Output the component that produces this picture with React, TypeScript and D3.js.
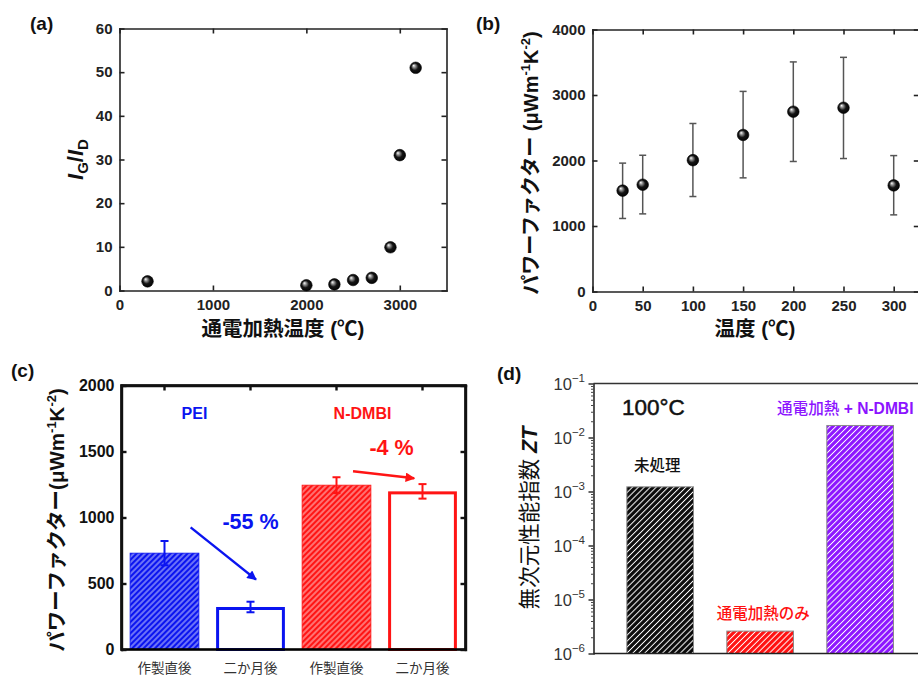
import React, { useEffect, useRef } from "react";
import * as d3 from "d3";

const W = 918, H = 676;
const FONT = "'Liberation Sans', Arial, 'Noto Sans CJK JP', sans-serif";

// (a) IG/ID vs joule heating temperature
const heatTemps = [300, 2000, 2300, 2500, 2700, 2900, 3000, 3170];
const ratioGD = [2.1, 1.2, 1.4, 2.4, 2.9, 9.9, 31, 51];
const ticksAx = [0, 1000, 2000, 3000];
const ticksAy = [0, 10, 20, 30, 40, 50, 60];

// (b) power factor vs measurement temperature
const measTemps = [30, 50, 100, 150, 200, 250, 300];
const pfMean = [1540, 1630, 2005, 2390, 2745, 2805, 1620];
const pfLow = [1115, 1185, 1450, 1735, 1985, 2030, 1170];
const pfHigh = [1960, 2080, 2565, 3055, 3505, 3575, 2075];
const ticksBx = [0, 50, 100, 150, 200, 250, 300];
const ticksBy = [0, 1000, 2000, 3000, 4000];

// (c) aging
const agingLabels = ["作製直後", "二か月後", "作製直後", "二か月後"];
const agingPF = [730, 322, 1245, 1198];
const agingErr = [92, 40, 60, 55];
const dopants = ["PEI", "PEI", "N-DMBI", "N-DMBI"];
const changeLabels = ["-55 %", "-4 %"];
const dopantColors = ["#0a14f0", "#ff1414"];
const ticksCy = [0, 500, 1000, 1500, 2000];

// (d) ZT at 100C
const ztLabels = ["未処理", "通電加熱のみ", "通電加熱 + N-DMBI"];
const ztValues = [1.22e-3, 2.6e-6, 1.67e-2];
const ztColors = ["#0a0a0a", "#ff1010", "#8c14ff"];
const ztExps = [-6, -5, -4, -3, -2, -1];

const fmt = d3.format("d");

function styleAxis(g: any, sw: number, color: string, fs = 15, weight: any = 700) {
  g.select(".domain").attr("stroke", color).attr("stroke-width", sw).attr("stroke-linecap", "square");
  g.selectAll(".tick line").attr("stroke", color).attr("stroke-width", sw);
  g.selectAll("text").attr("font-family", FONT).attr("font-size", fs).attr("font-weight", weight).attr("fill", color);
}

function boxAxes(svg: any, x: any, y: any, xt: number[], yt: number[], sw: number, color: string, fs: number) {
  const [x0, x1] = x.range();
  const [y0, y1] = y.range();
  const b = svg.append("g").attr("transform", `translate(0,${y0})`)
    .call(d3.axisBottom(x).tickValues(xt).tickFormat(fmt).tickSize(-5).tickSizeOuter(0).tickPadding(9));
  styleAxis(b, sw, color, fs);
  const t = svg.append("g").attr("transform", `translate(0,${y1})`)
    .call(d3.axisTop(x).tickValues(xt).tickSize(-5).tickSizeOuter(0).tickFormat(() => ""));
  styleAxis(t, sw, color, fs);
  const l = svg.append("g").attr("transform", `translate(${x0},0)`)
    .call(d3.axisLeft(y).tickValues(yt).tickFormat(fmt).tickSize(-5).tickSizeOuter(0).tickPadding(7));
  styleAxis(l, sw, color, fs);
  const r = svg.append("g").attr("transform", `translate(${x1},0)`)
    .call(d3.axisRight(y).tickValues(yt).tickSize(-5).tickSizeOuter(0).tickFormat(() => ""));
  styleAxis(r, sw, color, fs);
}

function label(svg: any, txt: string, x: number, y: number, size: number, opts: any = {}) {
  return svg.append("text").attr("x", x).attr("y", y).text(txt)
    .attr("font-family", FONT).attr("font-size", size)
    .attr("font-weight", opts.weight ?? 700)
    .attr("fill", opts.fill ?? "#111")
    .attr("text-anchor", opts.anchor ?? "start");
}

export default function App() {
  const svgRef = useRef<SVGSVGElement>(null);

  useEffect(() => {
    const svg = d3.select(svgRef.current);
    svg.selectAll("*").remove();
    const defs = svg.append("defs");

    const grad = defs.append("radialGradient").attr("id", "sphere")
      .attr("cx", "50%").attr("cy", "50%").attr("r", "55%").attr("fx", "32%").attr("fy", "30%");
    grad.append("stop").attr("offset", "0%").attr("stop-color", "#ffffff");
    grad.append("stop").attr("offset", "22%").attr("stop-color", "#9a9a9a");
    grad.append("stop").attr("offset", "55%").attr("stop-color", "#151515");
    grad.append("stop").attr("offset", "100%").attr("stop-color", "#000000");

    const hatch = (id: string, bg: string, lw: number, period: number) => {
      const p = defs.append("pattern").attr("id", id).attr("patternUnits", "userSpaceOnUse")
        .attr("width", period).attr("height", period).attr("patternTransform", "rotate(45)");
      p.append("rect").attr("width", period).attr("height", period).attr("fill", bg);
      p.append("line").attr("x1", period / 2).attr("y1", -1).attr("x2", period / 2).attr("y2", period + 1)
        .attr("stroke", "#fff").attr("stroke-width", lw);
    };
    hatch("hC0", dopantColors[0], 0.8, 4);
    hatch("hC1", dopantColors[1], 0.8, 4);
    ztColors.forEach((c, i) => hatch(`hD${i}`, c, 1.0, 4.2));

    ["blue", "red"].forEach((n, i) => {
      defs.append("marker").attr("id", `arr-${n}`).attr("viewBox", "0 0 10 10")
        .attr("refX", 9).attr("refY", 5).attr("markerWidth", 4.5).attr("markerHeight", 4)
        .attr("markerUnits", "strokeWidth").attr("orient", "auto")
        .append("path").attr("d", "M0,0 L10,5 L0,10 Z").attr("fill", dopantColors[i]);
    });

    // ---------- (a)
    const xA = d3.scaleLinear().domain([0, 3500]).range([119.5, 446.5]);
    const yA = d3.scaleLinear().domain([0, 60]).range([290.5, 28.5]);
    boxAxes(svg, xA, yA, ticksAx, ticksAy, 1.6, "#222", 15);
    svg.append("g").selectAll("circle").data(heatTemps).join("circle")
      .attr("cx", d => xA(d)).attr("cy", (d, i) => yA(ratioGD[i])).attr("r", 5.8)
      .attr("fill", "url(#sphere)").attr("stroke", "#000").attr("stroke-width", 0.6);
    label(svg, "(a)", 30, 30, 19);
    label(svg, "通電加熱温度 (℃)", 283, 336, 20.5, { anchor: "middle" });
    const la = svg.append("text").attr("transform", `translate(83,159.5) rotate(-90)`)
      .attr("text-anchor", "middle").attr("font-family", FONT).attr("font-size", 22)
      .attr("font-weight", 700).attr("fill", "#111");
    la.append("tspan").attr("font-style", "italic").text("I");
    la.append("tspan").attr("font-size", 15).attr("dy", 5).text("G");
    la.append("tspan").attr("dy", -5).text("/");
    la.append("tspan").attr("font-style", "italic").text("I");
    la.append("tspan").attr("font-size", 15).attr("dy", 5).text("D");

    // ---------- (b)
    const xB = d3.scaleLinear().domain([0, 325]).range([592.5, 918.8]);
    const yB = d3.scaleLinear().domain([0, 4000]).range([291.5, 29.5]);
    boxAxes(svg, xB, yB, ticksBx, ticksBy, 1.6, "#222", 15);
    const eb = svg.append("g").attr("stroke", "#555").attr("stroke-width", 1.5);
    measTemps.forEach((t, i) => {
      const cx = xB(t);
      eb.append("line").attr("x1", cx).attr("x2", cx).attr("y1", yB(pfLow[i])).attr("y2", yB(pfHigh[i]));
      eb.append("line").attr("x1", cx - 3.5).attr("x2", cx + 3.5).attr("y1", yB(pfLow[i])).attr("y2", yB(pfLow[i]));
      eb.append("line").attr("x1", cx - 3.5).attr("x2", cx + 3.5).attr("y1", yB(pfHigh[i])).attr("y2", yB(pfHigh[i]));
    });
    svg.append("g").selectAll("circle").data(measTemps).join("circle")
      .attr("cx", d => xB(d)).attr("cy", (d, i) => yB(pfMean[i])).attr("r", 5.8)
      .attr("fill", "url(#sphere)").attr("stroke", "#000").attr("stroke-width", 0.6);
    label(svg, "(b)", 476, 30, 19);
    label(svg, "温度 (℃)", 755, 336, 20.5, { anchor: "middle" });
    const lb = svg.append("text").attr("transform", `translate(538,163) rotate(-90)`)
      .attr("text-anchor", "middle").attr("font-family", FONT).attr("font-size", 20)
      .attr("font-weight", 700).attr("fill", "#111");
    lb.append("tspan").text("パワーファクター (μWm");
    lb.append("tspan").attr("font-size", 13).attr("dy", -8).text("-1");
    lb.append("tspan").attr("dy", 8).text("K");
    lb.append("tspan").attr("font-size", 13).attr("dy", -8).text("-2");
    lb.append("tspan").attr("dy", 8).text(")");

    // ---------- (c)
    const xC = d3.scaleBand<number>().domain(d3.range(4)).range([121.5, 465.5]).paddingInner(0.2).paddingOuter(0.1);
    const yC = d3.scaleLinear().domain([0, 2000]).range([649.5, 385.5]);
    const bw = xC.bandwidth();
    const colC = (i: number) => dopantColors[i < 2 ? 0 : 1];
    agingPF.forEach((v, i) => {
      const x = xC(i)!;
      if (i % 2 === 0) {
        svg.append("rect").attr("x", x).attr("width", bw).attr("y", yC(v)).attr("height", yC(0) - yC(v))
          .attr("fill", `url(#hC${i < 2 ? 0 : 1})`).attr("stroke", colC(i)).attr("stroke-width", 0.8);
      } else {
        svg.append("rect").attr("x", x + 1.5).attr("width", bw - 3).attr("y", yC(v) + 1.5)
          .attr("height", yC(0) - yC(v) - 1.5).attr("fill", "#fff").attr("stroke", colC(i)).attr("stroke-width", 3);
      }
      const cx = x + bw / 2;
      const g = svg.append("g").attr("stroke", colC(i)).attr("stroke-width", 2);
      const lo = yC(v - agingErr[i]), hi = yC(v + agingErr[i]);
      g.append("line").attr("x1", cx).attr("x2", cx).attr("y1", lo).attr("y2", hi);
      g.append("line").attr("x1", cx - 4).attr("x2", cx + 4).attr("y1", lo).attr("y2", lo);
      g.append("line").attr("x1", cx - 4).attr("x2", cx + 4).attr("y1", hi).attr("y2", hi);
      label(svg, agingLabels[i], cx, 673, 13.5, { anchor: "middle", weight: 400, fill: "#333" });
    });
    // frame (c)
    const [cx0, cx1] = xC.range();
    svg.append("rect").attr("x", cx0).attr("y", yC(2000)).attr("width", cx1 - cx0).attr("height", yC(0) - yC(2000))
      .attr("fill", "none").attr("stroke", "#000").attr("stroke-width", 2.6);
    const lc = svg.append("g").attr("transform", `translate(${cx0},0)`)
      .call(d3.axisLeft(yC).tickValues(ticksCy).tickFormat(fmt).tickSize(-5).tickSizeOuter(0).tickPadding(7));
    styleAxis(lc, 2.4, "#111", 16);
    const rc = svg.append("g").attr("transform", `translate(${cx1},0)`)
      .call(d3.axisRight(yC).tickValues(ticksCy).tickSize(-5).tickSizeOuter(0).tickFormat(() => ""));
    styleAxis(rc, 2.4, "#111", 16);
    const tc = svg.append("g").attr("transform", `translate(0,${yC(2000)})`)
      .call(d3.axisTop(xC).tickSize(-5).tickSizeOuter(0).tickFormat(() => ""));
    styleAxis(tc, 2.4, "#111", 16);
    // group titles
    label(svg, dopants[0], (xC(0)! + xC(1)! + bw) / 2 - 13, 419, 16, { anchor: "middle", fill: dopantColors[0] });
    label(svg, dopants[2], (xC(2)! + xC(3)! + bw) / 2 - 17, 419, 16, { anchor: "middle", fill: dopantColors[1] });
    // change annotations
    label(svg, changeLabels[0], xC(1)! + bw / 2, 529, 21.5, { anchor: "middle", fill: dopantColors[0] });
    label(svg, changeLabels[1], xC(3)! + bw * 0.05, 455, 21.5, { anchor: "middle", fill: dopantColors[1] });
    svg.append("line").attr("x1", xC(0)! + bw * 0.88).attr("y1", yC(925))
      .attr("x2", xC(1)! + bw * 0.58).attr("y2", yC(530))
      .attr("stroke", dopantColors[0]).attr("stroke-width", 2.4).attr("marker-end", "url(#arr-blue)");
    svg.append("line").attr("x1", xC(2)! + bw * 0.74).attr("y1", yC(1350))
      .attr("x2", xC(3)! + bw * 0.38).attr("y2", yC(1297))
      .attr("stroke", dopantColors[1]).attr("stroke-width", 2.4).attr("marker-end", "url(#arr-red)");
    label(svg, "(c)", 11, 377, 19);
    const lcT = svg.append("text").attr("transform", `translate(64,520) rotate(-90)`)
      .attr("text-anchor", "middle").attr("font-family", FONT).attr("font-size", 20.5)
      .attr("font-weight", 700).attr("fill", "#111");
    lcT.append("tspan").text("パワーファクター(μWm");
    lcT.append("tspan").attr("font-size", 13).attr("dy", -8).text("-1");
    lcT.append("tspan").attr("dy", 8).text("K");
    lcT.append("tspan").attr("font-size", 13).attr("dy", -8).text("-2");
    lcT.append("tspan").attr("dy", 8).text(")");

    // ---------- (d)
    const xD = d3.scaleBand<number>().domain(d3.range(3)).range([593.5, 926.8]).paddingInner(1 / 3).paddingOuter(1 / 3);
    const yD = d3.scaleLog().domain([1e-6, 1e-1]).range([653.5, 383.5]);
    const bd = xD.bandwidth();
    ztValues.forEach((v, i) => {
      svg.append("rect").attr("x", xD(i)!).attr("width", bd).attr("y", yD(v)).attr("height", yD(1e-6) - yD(v))
        .attr("fill", `url(#hD${i})`).attr("stroke", "#8a8a8a").attr("stroke-width", 1);
    });
    const majors = ztExps.map(e => Math.pow(10, e));
    const minors: number[] = [];
    ztExps.slice(0, -1).forEach(e => d3.range(2, 10).forEach(m => minors.push(m * Math.pow(10, e))));
    const ld = svg.append("g").attr("transform", `translate(593.5,0)`)
      .call(d3.axisLeft(yD).tickValues(majors).tickSize(5).tickSizeOuter(0).tickFormat(() => ""));
    styleAxis(ld, 1.4, "#222");
    const ldm = svg.append("g").attr("transform", `translate(593.5,0)`)
      .call(d3.axisLeft(yD).tickValues(minors).tickSize(2.5).tickSizeOuter(0).tickFormat(() => ""));
    styleAxis(ldm, 1, "#444");
    svg.append("line").attr("x1", 593.5).attr("x2", W).attr("y1", yD(1e-1)).attr("y2", yD(1e-1))
      .attr("stroke", "#333").attr("stroke-width", 1.4);
    svg.append("line").attr("x1", 593.5).attr("x2", W).attr("y1", yD(1e-6)).attr("y2", yD(1e-6))
      .attr("stroke", "#222").attr("stroke-width", 1.4);
    ztExps.forEach(e => {
      const t = svg.append("text").attr("x", 585).attr("y", yD(Math.pow(10, e)) + 6.5)
        .attr("text-anchor", "end").attr("font-family", FONT).attr("font-size", 16.5).attr("fill", "#333");
      t.append("tspan").text("10");
      t.append("tspan").attr("font-size", 11.5).attr("dy", -8).text(`−${Math.abs(e)}`);
    });
    label(svg, "(d)", 497, 380, 19);
    label(svg, "100°C", 622, 415, 22.5, { weight: 400, fill: "#111" }).attr("stroke", "#111").attr("stroke-width", 0.5);
    label(svg, ztLabels[0], xD(0)! + bd / 2 - 3, 471, 15.5, { anchor: "middle", weight: 500, fill: "#111" });
    label(svg, ztLabels[1], xD(1)! + bd / 2 + 3, 619, 15.5, { anchor: "middle", weight: 500, fill: ztColors[1] });
    const td = svg.append("text").attr("x", 777).attr("y", 414).attr("font-family", FONT)
      .attr("font-size", 15.6).attr("font-weight", 500).attr("fill", ztColors[2]);
    td.append("tspan").text(ztLabels[2].split(" + ")[0]);
    td.append("tspan").attr("font-weight", 700).text(" + " + ztLabels[2].split(" + ")[1]);
    const ldT = svg.append("text").attr("transform", `translate(537,518) rotate(-90)`)
      .attr("text-anchor", "middle").attr("font-family", FONT).attr("font-size", 21.5)
      .attr("font-weight", 400).attr("fill", "#111");
    ldT.append("tspan").text("無次元性能指数 ");
    ldT.append("tspan").attr("font-weight", 700).attr("font-style", "italic").text("ZT");
  }, []);

  return (
    <div style={{ position: "absolute", left: 0, top: 0, width: W, height: H, background: "#fff" }}>
      <svg ref={svgRef} width={W} height={H} style={{ display: "block" }} />
    </div>
  );
}
